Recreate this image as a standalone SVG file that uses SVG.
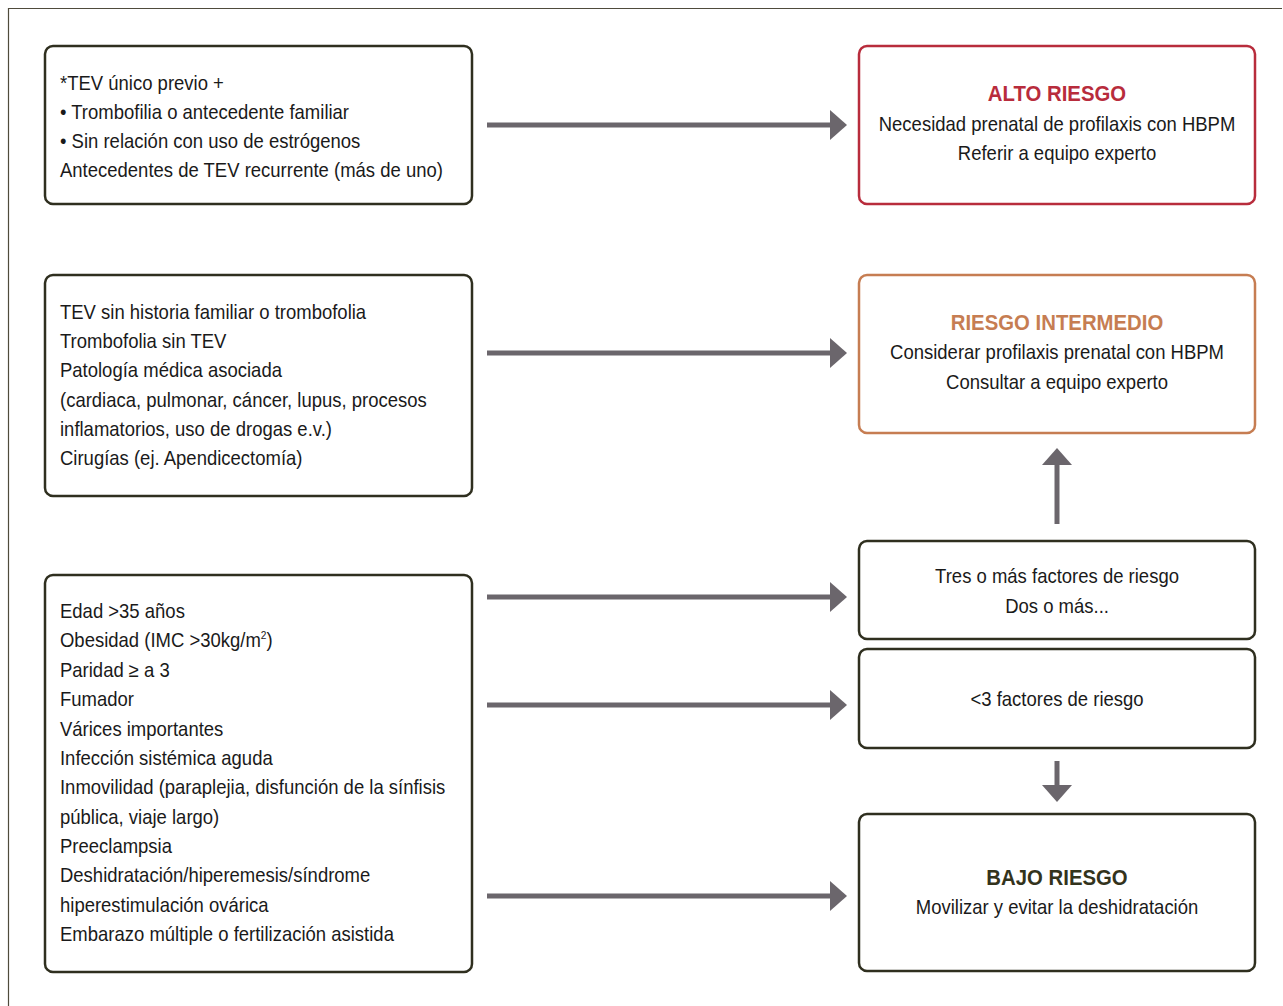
<svg xmlns="http://www.w3.org/2000/svg" width="1283" height="1006" viewBox="0 0 1283 1006">
<defs>
<style>
.box{fill:#fff;stroke:#2f2f1f;stroke-width:2.5}
.red{stroke:#b82c3c}
.org{stroke:#c67d52}
.t{font-family:"Liberation Sans",Arial,sans-serif;font-size:20px;fill:#1a1a1a}
.c{text-anchor:middle}
.b{font-weight:bold;font-size:22px}
.conn line{stroke:#6b666c;stroke-width:5}
.conn polygon{fill:#6b666c}
</style>
</defs>
<rect width="1283" height="1006" fill="#fff"/>
<path d="M8.5,1006 V8.5 H1282" fill="none" stroke="#4f4b3c" stroke-width="1.2"/>

<g id="n1">
<rect class="box" x="45" y="46" width="427" height="158" rx="8"/>
<g transform="matrix(0.925,0,0,1,4.5,0)">
<text class="t" x="60" y="90">*TEV único previo +</text>
<text class="t" x="60" y="119">• Trombofilia o antecedente familiar</text>
<text class="t" x="60" y="148">• Sin relación con uso de estrógenos</text>
<text class="t" x="60" y="177">Antecedentes de TEV recurrente (más de uno)</text>
</g>
</g>

<g id="n2">
<rect class="box" x="45" y="275" width="427" height="221" rx="8"/>
<g transform="matrix(0.925,0,0,1,4.5,0)">
<text class="t" x="60" y="319">TEV sin historia familiar o trombofolia</text>
<text class="t" x="60" y="348">Trombofolia sin TEV</text>
<text class="t" x="60" y="377">Patología médica asociada</text>
<text class="t" x="60" y="407">(cardiaca, pulmonar, cáncer, lupus, procesos</text>
<text class="t" x="60" y="436">inflamatorios, uso de drogas e.v.)</text>
<text class="t" x="60" y="465">Cirugías (ej. Apendicectomía)</text>
</g>
</g>

<g id="n3">
<rect class="box" x="45" y="575" width="427" height="397" rx="8"/>
<g transform="matrix(0.925,0,0,1,4.5,0)">
<text class="t" x="60" y="618">Edad &gt;35 años</text>
<text class="t" x="60" y="647">Obesidad (IMC &gt;30kg/m<tspan font-size="11" dy="-8">2</tspan><tspan dy="8">)</tspan></text>
<text class="t" x="60" y="677">Paridad ≥ a 3</text>
<text class="t" x="60" y="706">Fumador</text>
<text class="t" x="60" y="736">Várices importantes</text>
<text class="t" x="60" y="765">Infección sistémica aguda</text>
<text class="t" x="60" y="794">Inmovilidad (paraplejia, disfunción de la sínfisis</text>
<text class="t" x="60" y="824">pública, viaje largo)</text>
<text class="t" x="60" y="853">Preeclampsia</text>
<text class="t" x="60" y="882">Deshidratación/hiperemesis/síndrome</text>
<text class="t" x="60" y="912">hiperestimulación ovárica</text>
<text class="t" x="60" y="941">Embarazo múltiple o fertilización asistida</text>
</g>
</g>

<g id="alto">
<rect class="box red" x="859" y="46" width="396" height="158" rx="8"/>
<g transform="matrix(0.925,0,0,1,79.3,0)">
<text class="t c b" x="1057" y="101" style="fill:#b82c3c">ALTO RIESGO</text>
<text class="t c" x="1057" y="131">Necesidad prenatal de profilaxis con HBPM</text>
<text class="t c" x="1057" y="160">Referir a equipo experto</text>
</g>
</g>

<g id="intermedio">
<rect class="box org" x="859" y="275" width="396" height="158" rx="8"/>
<g transform="matrix(0.925,0,0,1,79.3,0)">
<text class="t c b" x="1057" y="330" style="fill:#c67d52">RIESGO INTERMEDIO</text>
<text class="t c" x="1057" y="359">Considerar profilaxis prenatal con HBPM</text>
<text class="t c" x="1057" y="389">Consultar a equipo experto</text>
</g>
</g>

<g id="tres">
<rect class="box" x="859" y="541" width="396" height="98" rx="8"/>
<g transform="matrix(0.925,0,0,1,79.3,0)">
<text class="t c" x="1057" y="583">Tres o más factores de riesgo</text>
<text class="t c" x="1057" y="613">Dos o más...</text>
</g>
</g>

<g id="menos3">
<rect class="box" x="859" y="649" width="396" height="99" rx="8"/>
<g transform="matrix(0.925,0,0,1,79.3,0)">
<text class="t c" x="1057" y="706">&lt;3 factores de riesgo</text>
</g>
</g>

<g id="bajo">
<rect class="box" x="859" y="814" width="396" height="157" rx="8"/>
<g transform="matrix(0.925,0,0,1,79.3,0)">
<text class="t c b" x="1057" y="885" style="fill:#33331c">BAJO RIESGO</text>
<text class="t c" x="1057" y="914">Movilizar y evitar la deshidratación</text>
</g>
</g>

<g id="connectors" class="conn">
<line x1="487" y1="125" x2="832" y2="125"/><polygon points="830,110 847,125 830,140"/>
<line x1="487" y1="353" x2="832" y2="353"/><polygon points="830,338 847,353 830,368"/>
<line x1="487" y1="597" x2="832" y2="597"/><polygon points="830,582 847,597 830,612"/>
<line x1="487" y1="705" x2="832" y2="705"/><polygon points="830,690 847,705 830,720"/>
<line x1="487" y1="896" x2="832" y2="896"/><polygon points="830,881 847,896 830,911"/>
<line x1="1057" y1="524" x2="1057" y2="463"/><polygon points="1042,465 1057,448 1072,465"/>
<line x1="1057" y1="761" x2="1057" y2="787"/><polygon points="1042,785 1057,802 1072,785"/>
</g>
</svg>
